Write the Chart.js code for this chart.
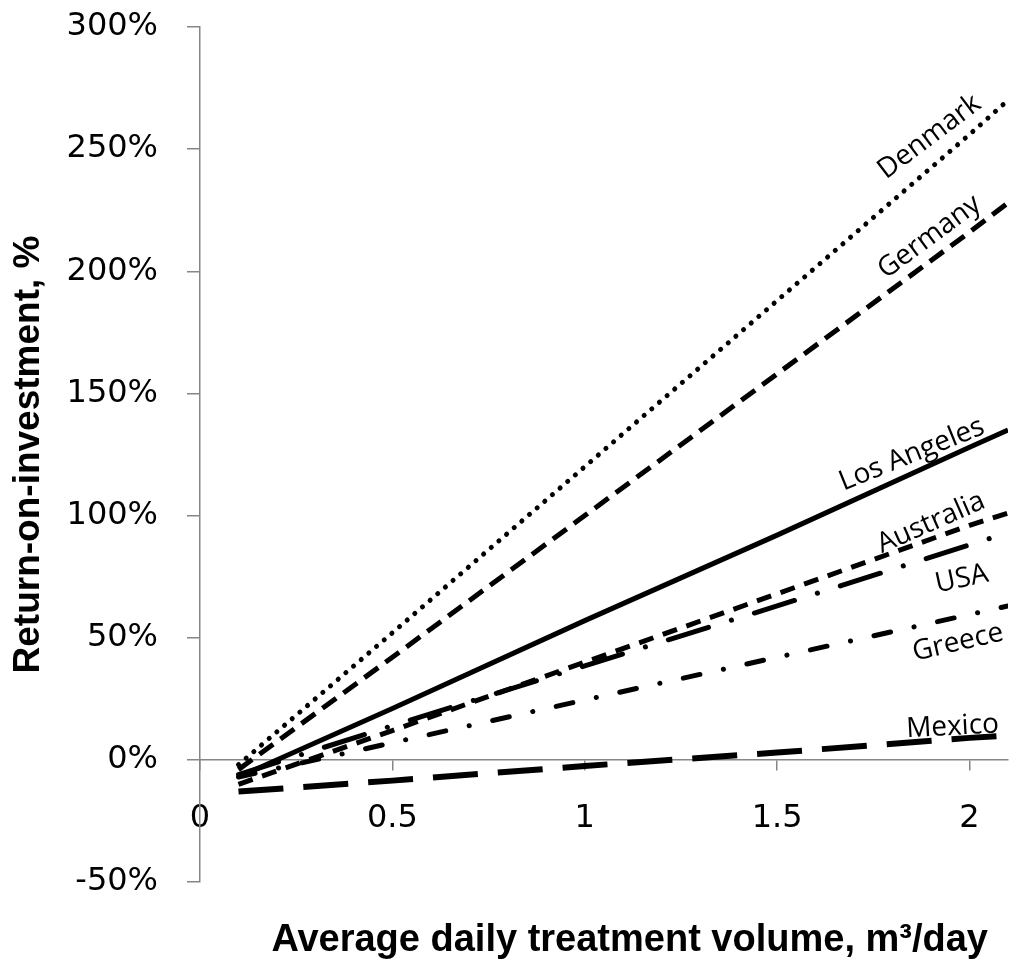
<!DOCTYPE html>
<html>
<head>
<meta charset="utf-8">
<script src="https://cdn.jsdelivr.net/npm/chart.js@4.4.1/dist/chart.umd.min.js"></script>
<style>
html,body{margin:0;padding:0;background:#fff;}
</style>
</head>
<body>
<canvas id="roiChart" width="1013" height="965"></canvas>
<script>
// volume, m3/day
const volumes = [0.1, 0.5, 1, 1.5, 2, 2.1];
const xTicks = [0, 0.5, 1, 1.5, 2];

// return-on-investment, %
const denmark    = [-2, 52, 120, 188, 256, 270];
const germany    = [-4, 42, 100, 158, 216, 228];
const losAngeles = [-7, 21, 57, 92, 128, 135];
const australia  = [-10, 12, 40, 68, 96, 101];
const usa        = [-6, 14, 38.5, 63, 88, 93];
const greece     = [-7, 7, 24.5, 42, 59.5, 63];
const mexico     = [-13, -8.5, -2.5, 3, 9, 10];

const seriesNames = ["Denmark", "Germany", "Los Angeles", "Australia", "USA", "Greece", "Mexico"];
const seriesValues = [denmark, germany, losAngeles, australia, usa, greece, mexico];

// where the inline names sit (in data units) and how they lean
const labelX = [1.896, 1.896, 1.85, 1.90, 1.98, 1.97, 1.956];
const labelY = [255, 214, 125, 97, 74, 48, 13.5];
const labelAngle = [-37, -36.6, -22, -23.7, -12, -13, -3];

const xTitle = "Average daily treatment volume, m\u00B3/day";
const yTitle = "Return-on-investment, %";

const styles = [
  {dash: [0.1, 10], cap: "round", width: 5},
  {dash: [17, 9], cap: "butt", width: 5},
  {dash: [], cap: "butt", width: 5},
  {dash: [15, 10], cap: "butt", width: 5},
  {dash: [42, 24, 0.1, 24], cap: "round", width: 5},
  {dash: [17, 24, 0.1, 24], cap: "round", width: 5},
  {dash: [45, 20], cap: "butt", width: 6}
];

const datasets = seriesNames.map((name, i) => ({
  label: name,
  data: volumes.map((v, j) => ({x: v, y: seriesValues[i][j]})),
  borderColor: "#000",
  borderWidth: styles[i].width,
  borderDash: styles[i].dash,
  borderCapStyle: styles[i].cap,
  pointRadius: 0,
  tension: 0,
  fill: false
}));

const titleFont = "bold 38px 'Liberation Sans Narrow', 'Liberation Sans', sans-serif";

const lineLabels = {
  id: "lineLabels",
  afterDatasetsDraw(chart){
    const ctx = chart.ctx;
    const x = chart.scales.x;
    const y = chart.scales.y;
    ctx.save();
    ctx.font = "28px 'Open Sans'";
    ctx.fillStyle = "#000";
    ctx.textAlign = "center";
    ctx.textBaseline = "middle";
    seriesNames.forEach((name, i) => {
      ctx.save();
      ctx.translate(x.getPixelForValue(labelX[i]), y.getPixelForValue(labelY[i]));
      ctx.rotate(labelAngle[i] * Math.PI / 180);
      ctx.fillText(name, 0, 0);
      ctx.restore();
    });
    // x axis title, under the plot, right side
    ctx.font = titleFont;
    ctx.textAlign = "right";
    ctx.textBaseline = "alphabetic";
    ctx.fillText(xTitle, chart.chartArea.right - 20, chart.height - 14);
    ctx.restore();
  }
};

const axisGrey = "#868686";

new Chart(document.getElementById("roiChart").getContext("2d"), {
  type: "line",
  data: {datasets},
  options: {
    responsive: false,
    animation: false,
    layout: {padding: {left: 0, right: 5, top: 27, bottom: 83}},
    plugins: {
      legend: {display: false},
      tooltip: {enabled: false}
    },
    scales: {
      x: {
        type: "linear",
        position: {y: 0},
        min: 0,
        max: 2.1,
        border: {color: axisGrey, width: 1.5},
        grid: {drawOnChartArea: false, tickLength: 10, color: axisGrey, lineWidth: 1.5},
        ticks: {
          color: "#000",
          padding: 30,
          maxRotation: 0,
          font: {family: "'DejaVu Sans'", size: 32},
          callback: v => String(v)
        },
        afterBuildTicks: scale => {
          scale.ticks = xTicks.map(v => ({value: v}));
        },
        afterFit: scale => {
          scale.paddingTop = 0;
          scale.paddingBottom = 0;
        }
      },
      y: {
        type: "linear",
        min: -50,
        max: 300,
        border: {color: axisGrey, width: 1.5},
        grid: {drawOnChartArea: false, tickLength: 13, color: axisGrey, lineWidth: 1.5},
        ticks: {
          stepSize: 50,
          color: "#000",
          padding: 29,
          font: {family: "'DejaVu Sans'", size: 32},
          callback: v => v + "%"
        },
        title: {
          display: true,
          text: yTitle,
          color: "#000",
          font: {family: "'Liberation Sans Narrow', 'Liberation Sans'", size: 37, weight: "bold"},
          padding: {top: 7, bottom: 0}
        },
        afterFit: scale => {
          scale.width = 200;
          scale.paddingTop = 0;
          scale.paddingBottom = 0;
        }
      }
    }
  },
  plugins: [lineLabels]
});
</script>
</body>
</html>
